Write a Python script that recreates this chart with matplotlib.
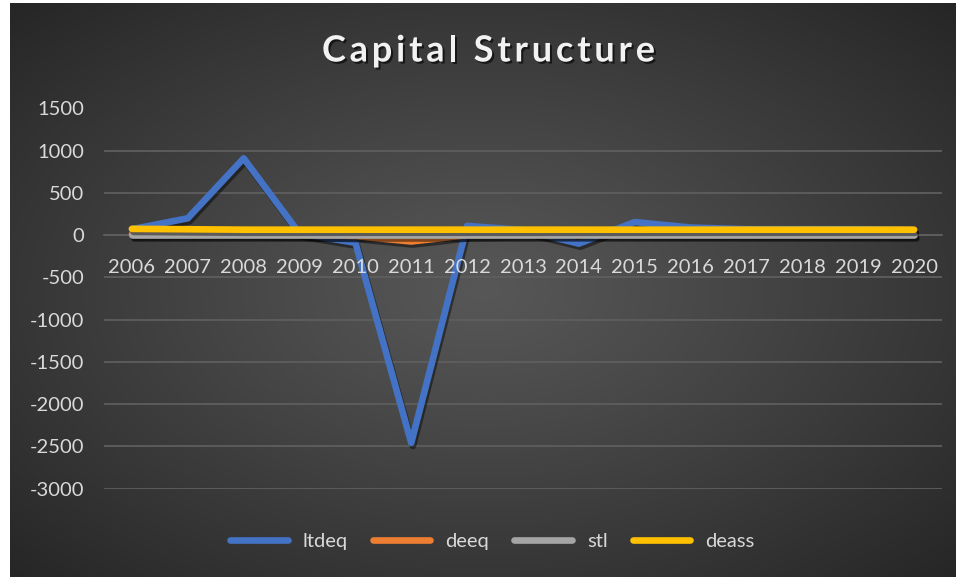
import matplotlib
matplotlib.use("Agg")
import matplotlib.pyplot as plt
import matplotlib.patheffects as pe
import numpy as np

years = [str(y) for y in range(2006, 2021)]
ltdeq = [70, 200, 910, 20, -90, -2460, 110, 60, -100, 155, 90, 70, 70, 70, 60]
deeq = [10, 10, 10, 5, -10, -75, 0, 10, 10, 10, 10, 10, 10, 10, 10]
stl = [0, 0, 0, 0, 0, 0, 0, 0, 0, 0, 0, 0, 0, 0, 0]
deass = [75, 70, 65, 65, 65, 65, 65, 65, 65, 65, 65, 65, 65, 65, 65]
series = [("ltdeq", ltdeq, "#4472C4"), ("deeq", deeq, "#ED7D31"),
          ("stl", stl, "#A5A5A5"), ("deass", deass, "#FFC000")]
y_ticks = list(range(-3000, 1501, 500))
title = "Capital Structure"

plt.rcParams["font.family"] = ["Lato", "DejaVu Sans"]
text_col = "#D9D9D9"

fig = plt.figure(figsize=(9.56, 5.77), dpi=100, facecolor="white")

# radial dark background
bg = fig.add_axes([10 / 956, 0, 946 / 956, 1 - 3 / 577])
bg.set_axis_off()
gx, gy = np.meshgrid(np.linspace(-1, 1, 400), np.linspace(-1, 1, 240))
r = np.clip(np.sqrt(gx ** 2 + gy ** 2) / np.sqrt(2), 0, 1)
inner, outer = 0x57 / 255, 0x26 / 255
shade = inner + (outer - inner) * r ** 1.1
bg.imshow(np.dstack([shade] * 3), aspect="auto", extent=[0, 1, 0, 1])
bg.set_xlim(0, 1)
bg.set_ylim(0, 1)

ax = fig.add_axes([104 / 956, 1 - 488.5 / 577, 838 / 956, 380 / 577])
ax.patch.set_alpha(0)
x = np.arange(len(years))
shadow = [pe.SimpleLineShadow(offset=(1.2, -2.2), shadow_color="black", alpha=0.45),
          pe.Normal()]
for name, vals, col in series:
    ax.plot(x, vals, color=col, lw=4.8, label=name, solid_capstyle="round",
            solid_joinstyle="round", path_effects=shadow)

ax.set_xlim(-0.5, len(years) - 0.5)
ax.set_ylim(-3000, 1500)
ax.set_yticks(y_ticks)
ax.set_yticklabels([str(v) for v in y_ticks])
ax.yaxis.grid(True, color="#5E5E5E", lw=1.3)
ax.set_axisbelow(True)
for s in ["top", "right", "left"]:
    ax.spines[s].set_visible(False)
ax.spines["bottom"].set_position(("data", 0))
ax.spines["bottom"].set_color("#5E5E5E")
ax.spines["bottom"].set_linewidth(1.3)
ax.spines["bottom"].set_zorder(0.4)
ax.set_xticks(x)
ax.set_xticklabels(years)
ax.xaxis.set_zorder(5)  # year labels sit on top of the lines
ax.tick_params(axis="x", length=0, pad=17, labelsize=14.5, colors=text_col)
ax.tick_params(axis="y", length=0, pad=14, labelsize=14.5, colors=text_col)

# spaced-out title, laid out one character at a time
renderer = fig.canvas.get_renderer()
title_kw = dict(fontsize=26, fontweight="bold", color="#F2F2F2", va="center",
                path_effects=[pe.withSimplePatchShadow(offset=(1.5, -1.5),
                                                       shadow_rgbFace="black", alpha=0.6)])
probe = fig.text(0, 0, title, **title_kw)
base_w = probe.get_window_extent(renderer).width
probe.remove()
target_w = 333.0
gap = (target_w - base_w) / (len(title) - 1)
x_px = 488.5 - target_w / 2
y_fig = 1 - 51 / 577
for i, ch in enumerate(title):
    if i:
        prev = fig.text(0, 0, title[:i], **title_kw)
        w = prev.get_window_extent(renderer).width
        prev.remove()
    else:
        w = 0.0
    fig.text((x_px + w + gap * i) / 956, y_fig, ch, ha="left", **title_kw)

leg = fig.legend(loc="center", bbox_to_anchor=(0.515, 1 - 541 / 577), ncol=4,
                 frameon=False, fontsize=14.5, handlelength=2.85,
                 handletextpad=0.75, columnspacing=1.25)
for t in leg.get_texts():
    t.set_color(text_col)
for h in leg.legend_handles:
    h.set_path_effects([])

fig.savefig("out.png", dpi=100, facecolor=fig.get_facecolor())
